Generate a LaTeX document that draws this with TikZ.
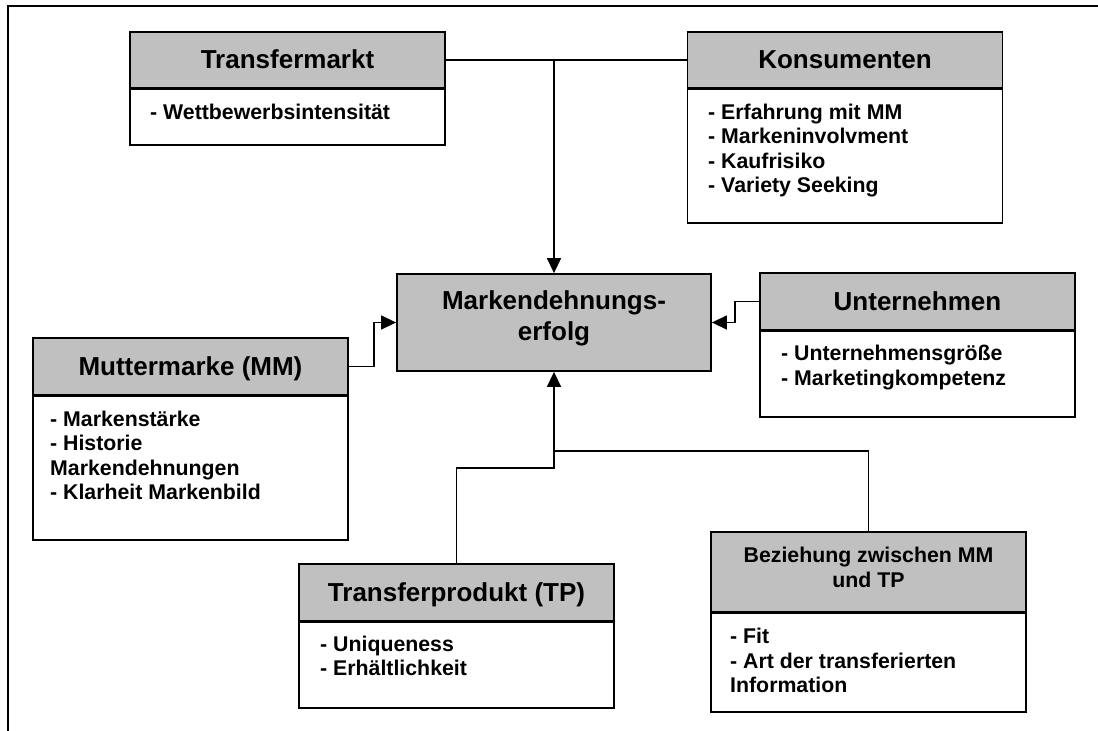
\documentclass[tikz,border=0pt]{standalone}
\usepackage{fontspec}
\setmainfont{Liberation Sans}
\usetikzlibrary{arrows.meta}
\definecolor{hdgray}{HTML}{C0C0C0}
\tikzset{
  boxline/.style={draw=black, line width=1.8pt},
  ttl/.style={boxline, fill=hdgray, minimum width=315pt, inner sep=0pt},
  bdy/.style={boxline, fill=white, minimum width=315pt, inner sep=0pt},
  divider/.style={line width=2.8pt},
  hd/.style={font=\fontsize{26}{30}\selectfont\bfseries, inner sep=0pt, anchor=base},
  hds/.style={font=\fontsize{21.3}{24.5}\selectfont\bfseries, inner sep=0pt, anchor=base},
  itm/.style={font=\fontsize{21.3}{24.5}\selectfont\bfseries, inner sep=0pt, anchor=base west},
  conn/.style={line width=1.5pt},
  arr/.style={conn, -{Triangle[length=15pt,width=14pt]}},
  frameline/.style={line width=2pt},
}
\begin{document}
\begin{tikzpicture}[x=1pt, y=-1pt]
\useasboundingbox (0,0) rectangle (1098,731);
% outer frame (cut at right and bottom)
\draw[frameline] (7.5,740) -- (7.5,6) -- (1105,6);

% Transfermarkt
\node[bdy, minimum height=57pt] (tmB) at (287.5,116.5) {};
\node[ttl, minimum height=56pt] (tmT) at (287.5,60) {};
\draw[divider] (tmT.south west) -- (tmT.south east);
\node[hd] (tmL) at (287.5,68.5) {Transfermarkt};
\node[itm] (tm1) at (150,119) {- Wettbewerbsintensität};

% Konsumenten
\node[bdy, minimum height=135pt] (koB) at (845,155.5) {};
\node[ttl, minimum height=56pt] (koT) at (845,60) {};
\draw[divider] (koT.south west) -- (koT.south east);
\node[hd] (koL) at (845,68.5) {Konsumenten};
\node[itm] (ko1) at (708,119) {- Erfahrung mit MM};
\node[itm] (ko2) at (708,143.5) {- Markeninvolvment};
\node[itm] (ko3) at (708,168) {- Kaufrisiko};
\node[itm] (ko4) at (708,192.5) {- Variety Seeking};

% Markendehnungserfolg
\node[ttl, minimum width=314pt, minimum height=97pt] (me) at (554,322.5) {};
\node[hd] (me1) at (554,309.3) {Markendehnungs-};
\node[hd] (me2) at (554,340) {erfolg};

% Muttermarke
\node[bdy, minimum height=145pt] (mmB) at (190.5,467.5) {};
\node[ttl, minimum height=57pt] (mmT) at (190.5,366.5) {};
\draw[divider] (mmT.south west) -- (mmT.south east);
\node[hd] (mmL) at (190.5,375.5) {Muttermarke (MM)};
\node[itm] (mm1) at (50,426) {- Markenstärke};
\node[itm] (mm2) at (50,450.5) {- Historie};
\node[itm] (mm3) at (50,475) {Markendehnungen};
\node[itm] (mm4) at (50,499.5) {- Klarheit Markenbild};

% Unternehmen
\node[bdy, minimum height=87pt] (unB) at (917.5,373.5) {};
\node[ttl, minimum height=57pt] (unT) at (917.5,301.5) {};
\draw[divider] (unT.south west) -- (unT.south east);
\node[hd] (unL) at (917.5,310.5) {Unternehmen};
\node[itm] (un1) at (781,360.5) {- Unternehmensgröße};
\node[itm] (un2) at (781,385) {- Marketingkompetenz};

% Transferprodukt
\node[bdy, minimum height=87pt] (tpB) at (456.5,664.5) {};
\node[ttl, minimum height=57pt] (tpT) at (456.5,592.5) {};
\draw[divider] (tpT.south west) -- (tpT.south east);
\node[hd] (tpL) at (456.5,601.5) {Transferprodukt (TP)};
\node[itm] (tp1) at (320,651) {- Uniqueness};
\node[itm] (tp2) at (320,675.5) {- Erhältlichkeit};

% Beziehung
\node[bdy, minimum height=100pt] (bzB) at (868.5,662) {};
\node[ttl, minimum height=80pt] (bzT) at (868.5,572) {};
\draw[divider] (bzT.south west) -- (bzT.south east);
\node[hds] (bzL1) at (868.5,562.5) {Beziehung zwischen MM};
\node[hds] (bzL2) at (868.5,587) {und TP};
\node[itm] (bz1) at (730,643.5) {- Fit};
\node[itm] (bz2) at (730,668) {- Art der transferierten};
\node[itm] (bz3) at (730,692.5) {Information};

% connectors
\draw[conn] (tmT.east) -- (koT.west);
\draw[arr] (me.north |- tmT.east) -- (me.north);
\draw[arr] (mmT.east) -- ++(25,0) |- (me.west);
\draw[arr] (unT.west) -- ++(-24,0) |- (me.east);
\coordinate (j1) at (554,468);
\coordinate (j2) at (554,451);
\draw[arr] (tpT.north) |- (j1) -- (me.south);
\draw[conn] (bzT.north) |- (j2);
\end{tikzpicture}
\end{document}
